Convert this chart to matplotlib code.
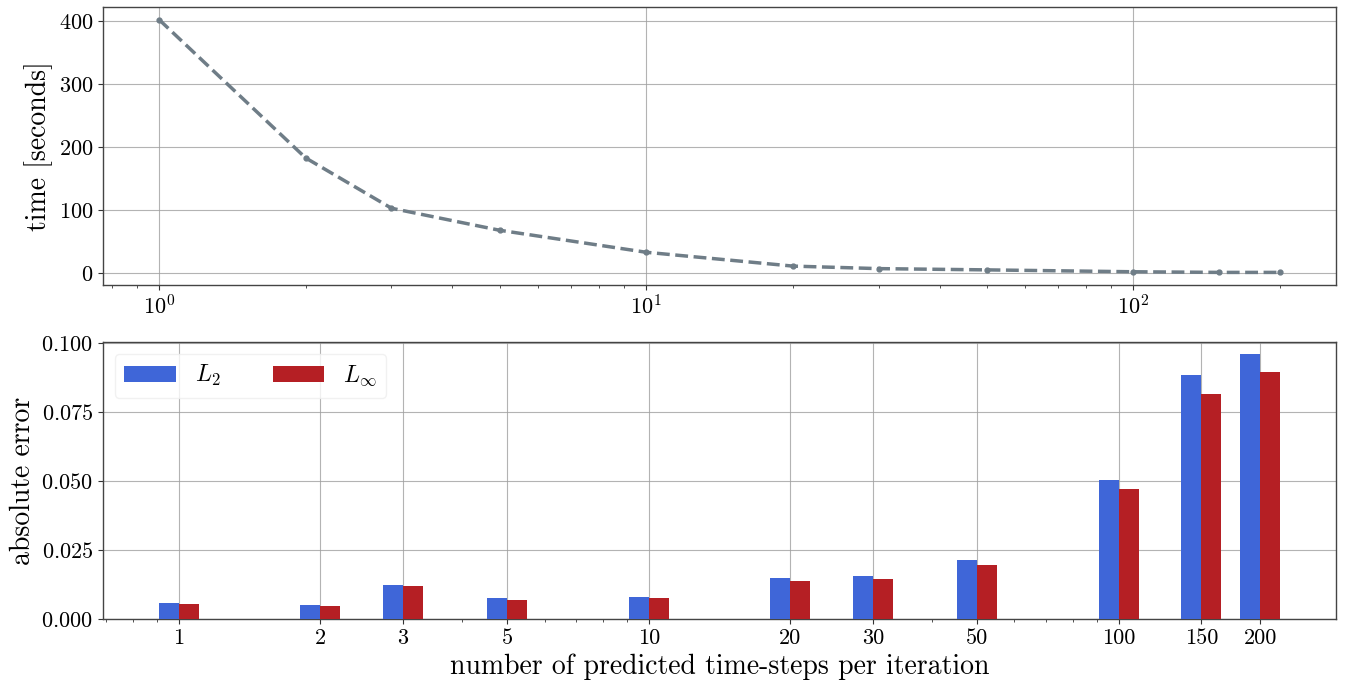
import numpy as np
import matplotlib
matplotlib.use('Agg')
import matplotlib.pyplot as plt
from matplotlib.ticker import NullFormatter, FixedLocator, FixedFormatter

plt.rcParams['font.family'] = 'serif'
plt.rcParams['font.serif'] = ['cmr10']
plt.rcParams['mathtext.fontset'] = 'cm'
plt.rcParams['axes.formatter.use_mathtext'] = True

# data
steps = [1, 2, 3, 5, 10, 20, 30, 50, 100, 150, 200]
step_labels = ['1', '2', '3', '5', '10', '20', '30', '50', '100', '150', '200']
time_sec = [403, 183, 103, 68, 33, 11, 7, 5, 2, 1, 1]
err_l2 = [0.0058, 0.0053, 0.0125, 0.0078, 0.0081, 0.0150, 0.0155, 0.0214, 0.0505, 0.0885, 0.0962]
err_linf = [0.0054, 0.0047, 0.0119, 0.0071, 0.0075, 0.0139, 0.0145, 0.0196, 0.0473, 0.0817, 0.0897]

fig = plt.figure(figsize=(13.51, 6.91), dpi=100)
ax1 = fig.add_axes([0.0762, 0.5875, 0.9128, 0.4025])
ax2 = fig.add_axes([0.0762, 0.104, 0.9128, 0.401])

grid_kw = dict(color='#a0a0a0', linewidth=0.8, alpha=0.8)

# top: timing
ax1.plot(steps, time_sec, '--', color='#6f7d87', lw=2.5, marker='o', ms=3.5)
ax1.set_xscale('log')
ax1.set_ylabel('time [seconds]', fontsize=20)
ax1.set_yticks([0, 100, 200, 300, 400])
ax1.grid(True, which='major', **grid_kw)

# bottom: errors, bars side by side on a log axis (constant width in log space)
w = 0.0425
x = np.array(steps, dtype=float)
ax2.bar(x / 10**w, err_l2, width=x - x / 10**w, align='edge',
        color='#3f66d8', label='$L_2$', zorder=3)
ax2.bar(x, err_linf, width=x * 10**w - x, align='edge',
        color='#b51f24', label='$L_\\infty$', zorder=3)
ax2.set_xscale('log')
ax2.xaxis.set_major_locator(FixedLocator(steps))
ax2.xaxis.set_major_formatter(FixedFormatter(step_labels))
ax2.xaxis.set_minor_formatter(NullFormatter())
ax2.set_yticks([0, 0.025, 0.05, 0.075, 0.1])
ax2.set_ylim(0, 0.1005)
ax2.set_ylabel('absolute error', fontsize=20)
ax2.set_xlabel('number of predicted time-steps per iteration', fontsize=20)
ax2.grid(True, which='major', **grid_kw)
ax2.set_axisbelow(True)
ax2.legend(loc='upper left', ncol=2, fontsize=17, handlelength=2.2,
           columnspacing=2.2, framealpha=0.8, edgecolor='#eeeeee')

for ax in (ax1, ax2):
    ax.tick_params(labelsize=16, direction='out', length=3.5, color='#333333')
    ax.tick_params(which='minor', length=2, color='#333333')
    for s in ax.spines.values():
        s.set_color('#444444')
        s.set_linewidth(1.0)

fig.savefig('out.png', dpi=100)
